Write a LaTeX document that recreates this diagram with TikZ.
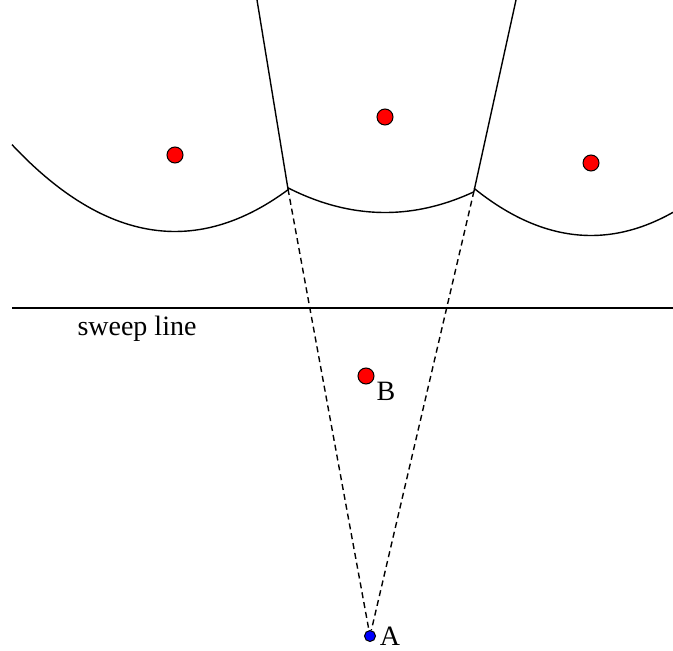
\documentclass[tikz,border=0pt]{standalone}
\usepackage{fontspec}
\setmainfont{Liberation Serif}
\usepackage{tikz}
\usetikzlibrary{positioning}

\begin{document}
\begin{tikzpicture}[
    x=0.5pt, y=-0.5pt,
    every node/.style={font=\fontsize{14}{16}\selectfont},
    site/.style={circle, draw, line width=0.5pt, inner sep=0pt, minimum size=8pt, fill=#1},
    site/.default=red,
    curve/.style={line width=0.7pt},
    guide/.style={line width=0.7pt, dash pattern=on 3pt off 2pt},
]
    \useasboundingbox (0,0) rectangle (673,651);
    % sites above the sweep line
    \node[site] (s1) at (175,155) {};
    \node[site] (s2) at (385,117) {};
    \node[site] (s3) at (591,163) {};
    \node[site] (b) at (366,376) {};
    \node[site=blue, minimum size=5.5pt] (a) at (370,636) {};
    \node (labB) at (386,391) {B};
    \node[inner sep=0pt] (labA) at (390,636) {A};
    % breakpoints and edges
    \coordinate (v1) at (288,189);
    \coordinate (v2) at (474,191);
    \coordinate (t1) at (257,0);
    \coordinate (t2) at (516,0);
    \draw[curve] (v1) -- (t1);
    \draw[curve] (v2) -- (t2);
    % beach line (directrix y=308)
    \draw[curve] plot[domain=12:288, samples=60] (\x, {231.5 - ((\x-175)/17.493)^2});
    \draw[curve] plot[domain=288:474, samples=60] (\x, {212.5 - ((\x-385)/19.545)^2});
    \draw[curve] plot[domain=474:673, samples=60] (\x, {235.5 - ((\x-591)/17.029)^2});
    % sweep line
    \coordinate (sw1) at (12,308);
    \coordinate (sw2) at (673,308);
    \draw[curve] (sw1) -- (sw2);
    \node (lab) at (137,329) {sweep line};
    % circle event
    \draw[guide] (v1) -- (a);
    \draw[guide] (v2) -- (a);
\end{tikzpicture}
\end{document}
